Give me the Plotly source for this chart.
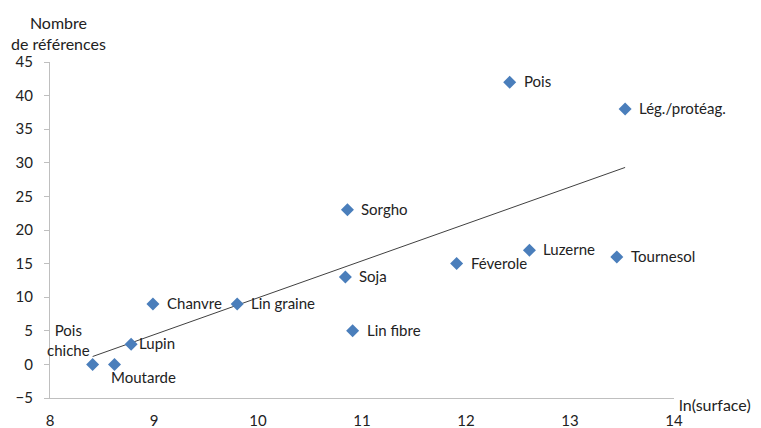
import numpy as np
import plotly.graph_objects as go

# ln(surface) et nombre de références par culture
cultures = ["Pois chiche", "Moutarde", "Lupin", "Chanvre", "Lin graine", "Soja", "Sorgho",
            "Lin fibre", "Féverole", "Pois", "Luzerne", "Tournesol", "Lég./protéag."]
ln_surface = [8.41, 8.62, 8.78, 8.99, 9.80, 10.84, 10.86, 10.91, 11.91, 12.42, 12.61, 13.45, 13.53]
nb_refs = [0, 0, 3, 9, 9, 13, 23, 5, 15, 42, 17, 16, 38]

x = np.array(ln_surface)
y = np.array(nb_refs)
pente, ordonnee = np.polyfit(x, y, 1)
x_tend = np.array([x.min(), x.max()])

fig = go.Figure()

# courbe de tendance linéaire
fig.add_trace(go.Scatter(x=x_tend, y=pente * x_tend + ordonnee, mode="lines",
                         line=dict(color="#404040", width=1), showlegend=False,
                         hoverinfo="skip"))

fig.add_trace(go.Scatter(x=ln_surface, y=nb_refs, mode="markers",
                         marker=dict(symbol="diamond", size=10, color="#4A7EBB"),
                         text=cultures, showlegend=False))

# étiquettes des points
for nom, xi, yi in zip(cultures, ln_surface, nb_refs):
    if nom == "Pois chiche":
        fig.add_annotation(x=xi, y=yi, text="Pois<br>chiche", showarrow=False,
                           xanchor="right", yanchor="bottom", xshift=-1, yshift=3, align="center")
    elif nom == "Moutarde":
        fig.add_annotation(x=xi, y=yi, text=nom, showarrow=False,
                           xanchor="left", yanchor="middle", xshift=-5, yshift=-13)
    elif nom == "Lupin":
        fig.add_annotation(x=xi, y=yi, text=nom, showarrow=False,
                           xanchor="left", yanchor="middle", xshift=6, yshift=1)
    else:
        fig.add_annotation(x=xi, y=yi, text=nom, showarrow=False,
                           xanchor="left", yanchor="middle", xshift=12, yshift=1)

fig.add_annotation(xref="paper", yref="paper", x=0.013, y=1, yshift=7,
                   text="Nombre<br>de références", showarrow=False,
                   xanchor="center", yanchor="bottom", align="center", font=dict(size=16))
fig.add_annotation(xref="paper", yref="paper", x=1, xshift=3, y=0, yshift=-6,
                   text="ln(surface)", showarrow=False, xanchor="left", yanchor="middle",
                   font=dict(size=16))

# la page a une marge de 8 px : figure réduite d'autant
fig.update_layout(
    width=753, height=420,
    margin=dict(l=42, r=87, t=54, b=30),
    plot_bgcolor="white", paper_bgcolor="white",
    font=dict(family="Lato, Carlito, Calibri, sans-serif", size=15, color="#222222"),
)
fig.update_xaxes(range=[8, 14], dtick=1, showgrid=False, zeroline=False, automargin=False,
                 showline=True, linecolor="#BFBFBF", linewidth=1, ticks="",
                 ticklabelstandoff=9)
fig.update_yaxes(range=[-5, 45], dtick=5, showgrid=False, zeroline=False, automargin=False,
                 showline=True, linecolor="#BFBFBF", linewidth=1,
                 ticks="outside", ticklen=5, tickcolor="#BFBFBF", ticklabelstandoff=8)

fig.write_html("out.html")
